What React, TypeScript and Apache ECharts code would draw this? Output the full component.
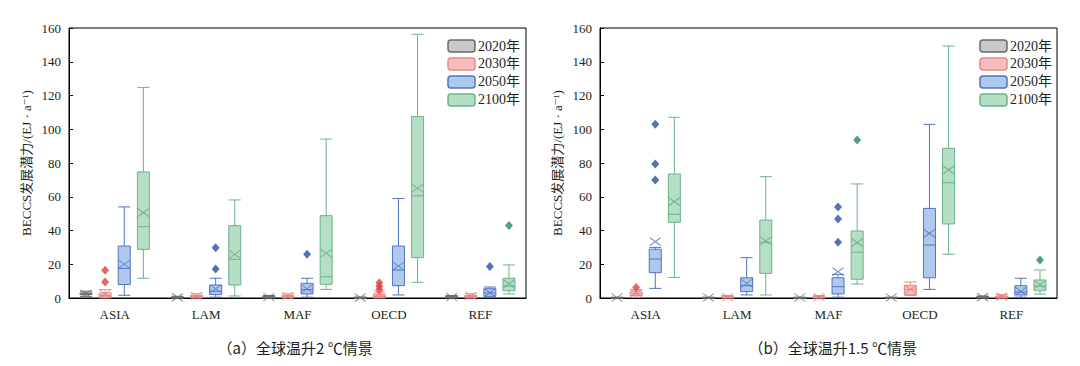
import React, { useEffect, useRef } from 'react';
import * as echarts from 'echarts';

const categories = ['ASIA', 'LAM', 'MAF', 'OECD', 'REF'];
const years = ['2020年', '2030年', '2050年', '2100年'];
const yMin = 0;
const yMax = 160;
const yInterval = 20;
const yName = 'BECCS发展潜力/(EJ · a⁻¹)';
const captionA = '（a）全球温升2 ℃情景';
const captionB = '（b）全球温升1.5 ℃情景';

// Panel (a): [min, Q1, median, Q3, max]
const a2020Box = [[1, 2, 2.5, 3, 4], [0, 0, 0.3, 0.6, 1], [0, 0.2, 0.5, 1, 1.5], [0, 0, 0.1, 0.3, 0.6], [0, 0.3, 0.6, 1, 1.5]];
const a2020Mean = [2.5, 0.4, 0.6, 0.2, 0.6];
const a2020Out: number[][] = [[], [], [], [], []];
const a2030Box = [[0, 0.5, 1.5, 3, 5], [0, 0.5, 1, 1.5, 2.5], [0, 0.5, 1, 1.5, 2.5], [0, 0.5, 1, 2, 3], [0, 0.5, 1, 1.5, 2.5]];
const a2030Mean = [2.5, 1.2, 1.2, 2.5, 1.2];
const a2030Out: number[][] = [[16.5, 9.5], [], [], [9, 7, 5], []];
const a2050Box = [[1.6, 8, 17.5, 30.8, 54], [0.5, 2, 4, 7.7, 11.7], [0.5, 2.4, 5, 8.7, 11.7], [1.8, 7.3, 16.6, 30.8, 59], [0.3, 1, 3, 5.5, 6.5]];
const a2050Mean = [20, 5.5, 5.5, 19, 3.2];
const a2050Out: number[][] = [[], [29.8, 17.2], [26], [], [18.6]];
const a2100Box = [[11.7, 28.8, 42.3, 74.7, 124.8], [1.2, 7.7, 22.9, 42.9, 58.1], [5.1, 8.1, 12.6, 48.8, 94.2], [9.3, 23.9, 60.6, 107.5, 156.3], [2.4, 4.3, 7, 11.7, 19.6]];
const a2100Mean = [50.6, 25.9, 26.5, 65, 8.5];
const a2100Out: number[][] = [[], [], [], [], [42.9]];

// Panel (b)
const b2020Box = [[0, 0, 0, 0.3, 0.5], [0, 0, 0, 0.3, 0.5], [0, 0, 0, 0.3, 0.5], [0, 0, 0, 0.3, 0.5], [0, 0.2, 0.4, 0.8, 1.2]];
const b2020Mean = [0.3, 0.3, 0.3, 0.3, 0.5];
const b2020Out: number[][] = [[], [], [], [], []];
const b2030Box = [[0.5, 1.5, 2.5, 4, 5], [0, 0.3, 0.6, 1, 1.5], [0, 0.3, 0.6, 1, 1.5], [1.5, 2, 5, 7.5, 9.5], [0, 0.3, 0.8, 1.2, 2]];
const b2030Mean = [3, 0.6, 0.6, 5, 0.8];
const b2030Out: number[][] = [[6.2], [], [], [], []];
const b2050Box = [[5.7, 15, 23.1, 28.9, 30], [1.8, 3.8, 7.3, 12, 23.9], [0.5, 2.4, 6.7, 12, 14], [5.1, 12, 31.4, 53.1, 102.9], [0.5, 1.8, 3.5, 7.3, 11.7]];
const b2050Mean = [33.4, 8.7, 15.6, 38.3, 4];
const b2050Out: number[][] = [[103, 79.4, 70], [], [54, 46.8, 33], [], []];
const b2100Box = [[12.2, 44.8, 49.6, 73.5, 107.1], [1.8, 14.6, 33, 46.2, 71.9], [8.3, 11.1, 27.1, 39.7, 67.6], [25.9, 43.9, 68.3, 88.7, 149.3], [2.3, 4.3, 7, 10.7, 16.6]];
const b2100Mean = [57.1, 33.8, 32.8, 75.9, 8];
const b2100Out: number[][] = [[], [], [93.6], [], [22.5]];

const fills = ['rgba(165,165,165,0.6)', 'rgba(240,145,145,0.6)', 'rgba(135,170,228,0.65)', 'rgba(140,205,168,0.65)'];
const borders = ['#6a6a6a', '#e88a8a', '#4f74c4', '#6bb48c'];
const markColors = ['#555555', '#e04040', '#2c509e', '#238a5c'];
const meanColors = ['#707070', '#e87878', '#4f74c4', '#5fa882'];
// offsets of the 4 boxes inside a category band, in band units
const slotOffsets = [-0.3136, -0.1045, 0.1045, 0.3136];

const TXT = '#231f20';
const SERIF = '"Liberation Serif", "Noto Sans CJK SC", "DejaVu Serif", serif';

const panels = [
  { left: 69, legendRight: 560, caption: captionA, boxes: [a2020Box, a2030Box, a2050Box, a2100Box], means: [a2020Mean, a2030Mean, a2050Mean, a2100Mean], outs: [a2020Out, a2030Out, a2050Out, a2100Out] },
  { left: 600, legendRight: 28, caption: captionB, boxes: [b2020Box, b2030Box, b2050Box, b2100Box], means: [b2020Mean, b2030Mean, b2050Mean, b2100Mean], outs: [b2020Out, b2030Out, b2050Out, b2100Out] },
];

const GW = 457;
const GTOP = 28;
const GH = 270;

function buildOption() {
  const grid: any[] = [];
  const xAxis: any[] = [];
  const yAxis: any[] = [];
  const legend: any[] = [];
  const series: any[] = [];
  const graphic: any[] = [];
  panels.forEach((p, pi) => {
    grid.push({ left: p.left, top: GTOP, width: GW, height: GH, show: true, borderColor: '#000', borderWidth: 1, backgroundColor: 'transparent' });
    xAxis.push({
      type: 'category', gridIndex: pi, data: categories,
      axisLine: { onZero: false, lineStyle: { color: '#000', width: 1 } },
      axisTick: { alignWithLabel: true, inside: true, length: 4, lineStyle: { color: '#000' } },
      axisLabel: { color: TXT, fontFamily: SERIF, fontSize: 13, margin: 10 },
    });
    xAxis.push({ type: 'value', gridIndex: pi, min: -0.5, max: 4.5, show: false });
    yAxis.push({
      type: 'value', gridIndex: pi, min: yMin, max: yMax, interval: yInterval,
      name: yName, nameLocation: 'middle', nameGap: 36, nameRotate: 90,
      nameTextStyle: { color: TXT, fontFamily: SERIF, fontSize: 13 },
      axisLine: { show: true, onZero: false, lineStyle: { color: '#000', width: 1 } },
      axisTick: { show: true, inside: true, length: 4, lineStyle: { color: '#000' } },
      axisLabel: { color: TXT, fontFamily: SERIF, fontSize: 13, margin: 8 },
      splitLine: { show: false },
    });
    legend.push({
      data: years.map((n, s) => ({ name: n, itemStyle: { color: fills[s], borderColor: borders[s], borderWidth: 1.5 } })),
      orient: 'vertical', right: p.legendRight, top: 39, padding: 0,
      itemWidth: 27, itemHeight: 12, itemGap: 4, icon: 'roundRect',
      textStyle: { color: TXT, fontFamily: SERIF, fontSize: 14, padding: [0, 0, 0, -2] },
    });
    years.forEach((yr, s) => {
      series.push({
        type: 'boxplot', name: yr, xAxisIndex: pi * 2, yAxisIndex: pi,
        data: p.boxes[s], boxWidth: [6, 12],
        itemStyle: { color: fills[s], borderColor: borders[s], borderWidth: 1 },
      });
    });
    years.forEach((yr, s) => {
      series.push({
        type: 'scatter', name: yr, xAxisIndex: pi * 2 + 1, yAxisIndex: pi, z: 5,
        symbol: 'path://M0,0L10,8M10,0L0,8', symbolSize: [11, 8],
        itemStyle: { color: 'transparent', borderColor: meanColors[s], borderWidth: 1 },
        data: p.means[s].map((m, i) => [i + slotOffsets[s], m]),
      });
      const outData: number[][] = [];
      p.outs[s].forEach((arr, i) => arr.forEach((v) => outData.push([i + slotOffsets[s], v])));
      series.push({
        type: 'scatter', name: yr, xAxisIndex: pi * 2 + 1, yAxisIndex: pi, z: 6,
        symbol: 'diamond', symbolSize: [8, 9],
        itemStyle: { color: markColors[s] },
        data: outData,
      });
    });
    graphic.push({
      type: 'text', left: p.left + GW / 2 - 80, top: 340,
      style: { text: p.caption, fill: TXT, font: '15px "Noto Sans CJK SC", sans-serif', width: 160, align: 'center' },
    });
  });
  return { animation: false, backgroundColor: '#fff', grid, xAxis, yAxis, legend, series, graphic };
}

export default function App() {
  const ref = useRef<HTMLDivElement>(null);
  useEffect(() => {
    const chart = echarts.init(ref.current!, null, { renderer: 'svg' });
    chart.setOption(buildOption() as any);
    return () => chart.dispose();
  }, []);
  return <div ref={ref} style={{ position: 'absolute', left: 0, top: 0, width: 1080, height: 366, background: '#fff' }} />;
}
